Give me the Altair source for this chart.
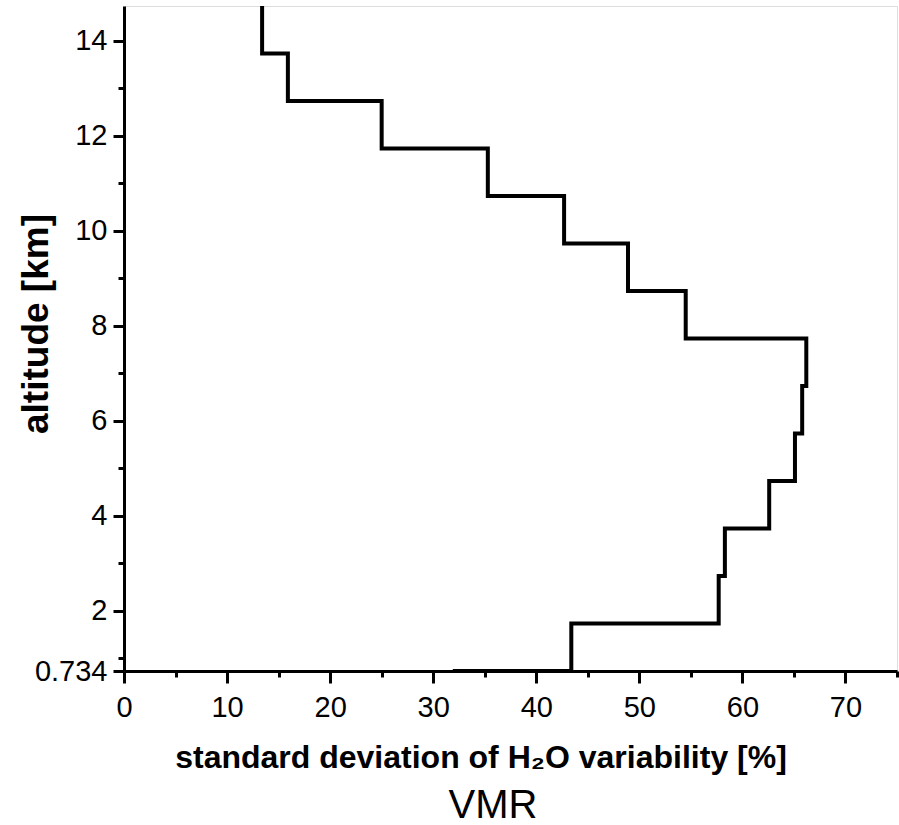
import altair as alt
import pandas as pd

# layer boundaries (altitude, km) and per-layer standard deviation (%)
boundaries = [0.734, 1.734, 2.734, 3.734, 4.734, 5.734, 6.734, 7.734,
              8.734, 9.734, 10.734, 11.734, 12.734, 13.734, 14.734]
std_values = [43.4, 57.7, 58.3, 62.6, 65.1, 65.8, 66.2, 54.5,
              48.9, 42.7, 35.3, 25.0, 15.9, 13.4]
below_value = 31.9  # value of the layer below the plotted range

y_major = [0.734, 2, 4, 6, 8, 10, 12, 14]
y_minor = [1, 3, 5, 7, 9, 11, 13]
x_ticks = [0, 5, 10, 15, 20, 25, 30, 35, 40, 45, 50, 55, 60, 65, 70, 75]

# build step-path vertices
xs, ys = [below_value], [boundaries[0]]
for i, v in enumerate(std_values):
    xs += [v, v]
    ys += [boundaries[i], boundaries[i + 1]]
df = pd.DataFrame({"x": xs, "y": ys, "order": list(range(len(xs)))})

FONT = "Liberation Sans"

line = alt.Chart(df).mark_line(color="black", strokeWidth=4, strokeJoin="miter").encode(
    x=alt.X("x:Q",
            scale=alt.Scale(domain=[0, 75], nice=False, zero=False),
            axis=alt.Axis(
                values=x_ticks,
                labelExpr="datum.value % 10 == 0 ? format(datum.value, 'd') : ''",
                tickSize={"condition": {"test": "datum.value % 10 == 5", "value": 6}, "value": 12},
                tickWidth=3, domainWidth=3, domainColor="black", tickColor="black",
                labelFont=FONT, labelFontSize=29, labelColor="black", labelPadding=10,
                labelFlush=False, labelOverlap=False, grid=False,
                title="standard deviation of H₂O variability [%]",
                titleFont=FONT, titleFontSize=32, titleFontWeight="bold", titleColor="black",
                titleX=356.5, titleY=96, titleAlign="center", titleBaseline="alphabetic",
            )),
    y=alt.Y("y:Q",
            scale=alt.Scale(domain=[0.734, 14.734], nice=False, zero=False),
            axis=alt.Axis(
                values=y_major + y_minor,
                labelExpr="datum.value == 0.734 ? '0.734' : (datum.value % 2 == 1 ? '' : format(datum.value, 'd'))",
                tickSize={"condition": {"test": "datum.value % 2 == 1", "value": 6}, "value": 11},
                tickWidth=3, domainWidth=3, domainColor="black", tickColor="black",
                labelFont=FONT, labelFontSize=29, labelColor="black", labelPadding=6,
                labelFlush=False, labelOverlap=False, grid=False,
                title="altitude [km]",
                titleFont=FONT, titleFontSize=37, titleFontWeight="bold", titleColor="black",
                titleX=-88, titleY=317.5, titleAngle=270, titleAlign="center", titleBaseline="middle",
            )),
    order="order:Q",
)

vmr = alt.Chart(pd.DataFrame({"t": ["VMR"]})).mark_text(
    font=FONT, fontSize=40, color="black", align="center", baseline="alphabetic"
).encode(text="t:N", x=alt.value(369), y=alt.value(812))

chart = alt.layer(line, vmr).properties(
    width=773, height=665,
    autosize=alt.AutoSizeParams(type="none"),
    padding={"left": 124, "top": 6, "right": 2, "bottom": 154},
).configure_view(stroke="black", strokeWidth=3).configure(background="white")

chart.save("out.html", embed_options={"renderer": "svg", "actions": False})
